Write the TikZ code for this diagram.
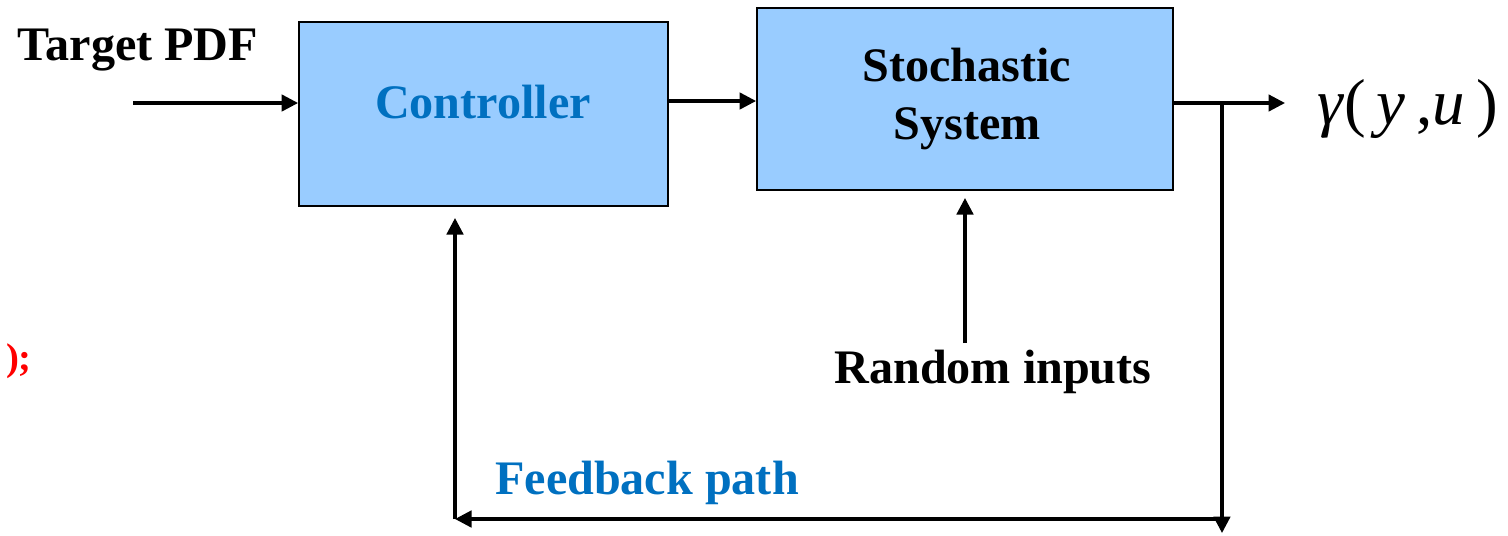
\documentclass[tikz,border=0pt]{standalone}
\usepackage{fontspec}
\setmainfont{Liberation Serif}
\usetikzlibrary{arrows.meta}
\definecolor{boxfill}{RGB}{153,204,255}
\definecolor{labelblue}{RGB}{0,112,192}
\tikzset{
  block/.style={draw=black, line width=1.1pt, fill=boxfill, inner sep=0pt},
  flow/.style={line width=1.8pt, -{Triangle[length=0.33cm, width=0.33cm]}},
  txt/.style={font=\fontsize{27.4}{36}\selectfont\bfseries, inner sep=0pt},
}
\begin{document}
\begin{tikzpicture}[x=0.02cm, y=-0.02cm]
  \useasboundingbox (0,0) rectangle (1508,535);

  % blocks
  \node[block, minimum width=7.38cm, minimum height=3.68cm] (ctrl) at (483.5,114) {};
  \node[block, minimum width=8.32cm, minimum height=3.64cm] (sys) at (965,99) {};

  % block labels
  \node[txt, text=labelblue, anchor=base] (ctrltxt) at (483,118) {Controller};
  \node[txt, anchor=base] (sys1) at (967,81) {Stochastic};
  \node[txt, anchor=base] (sys2) at (967,139) {System};

  % free labels
  \node[txt, anchor=base] (target) at (138,60) {Target PDF};
  \node[txt, anchor=base] (rand) at (993,383) {Random inputs};
  \node[txt, text=labelblue, anchor=base] (fb) at (647,494) {Feedback path};
  \node[font=\fontsize{22}{26}\selectfont\bfseries, text=red, anchor=base, inner sep=0pt] (semi) at (19,370) {);};
  \node[font=\fontsize{37}{44}\selectfont, anchor=base west, inner sep=0pt] (out) at (1317,124)
    {\textit{γ}(\,\textit{y}\,,\textit{u}\,)};

  % connector endpoints
  \coordinate (tin) at (133,103);
  \coordinate (tout) at (1285,103);
  \coordinate (split) at (1222,103);
  \coordinate (down) at (1222,533);
  \coordinate (corner) at (1222,519);
  \coordinate (fbl) at (455,519);
  \coordinate (fbup) at (455,218);
  \coordinate (rin) at (965,343);
  \coordinate (rtip) at (965,198);

  % forward path
  \draw[flow] (tin) -- (tin -| ctrl.west);
  \draw[flow] (ctrl.east |- 0,101) -- (sys.west |- 0,101);
  \draw[flow] (sys.east |- tout) -- (tout);

  % disturbance input
  \draw[flow] (rin) -- (rtip);

  % feedback loop
  \draw[flow] (split) -- (down);
  \draw[flow] (corner) -- (fbl);
  \draw[flow] (fbl) -- (fbup);
\end{tikzpicture}
\end{document}
